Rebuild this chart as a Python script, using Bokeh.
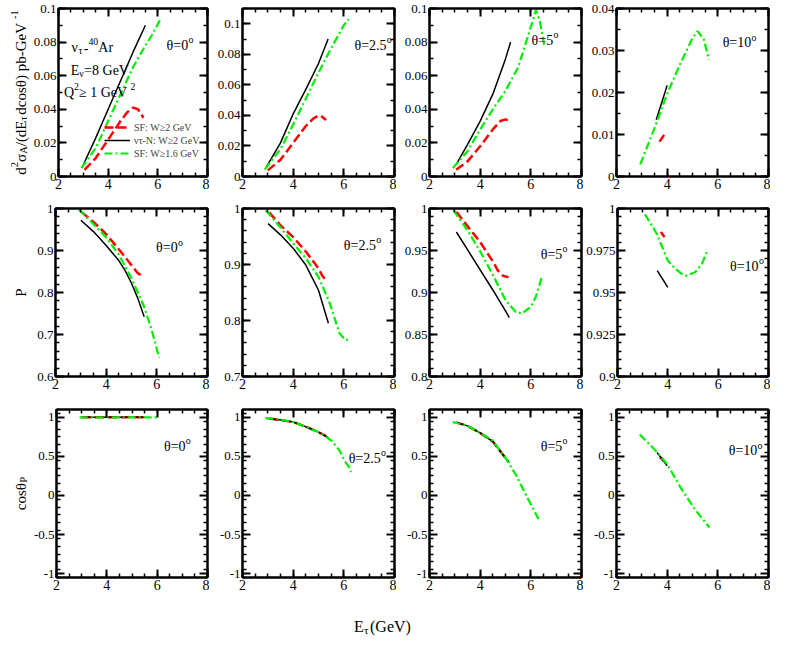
import numpy as np
from math import pi
from bokeh.plotting import figure
from bokeh.layouts import column, row
from bokeh.models import (Range1d, FixedTicker, LinearAxis, CustomJSTickFormatter,
                          Label, Legend, LegendItem)
from bokeh.embed import file_html
from bokeh.resources import INLINE

FONT = "Liberation Serif"

# ---------------- data ----------------
ANGLE_LABELS = ["0", "2.5", "5", "10"]
X_TICKS = [2, 4, 6, 8]

XS_YRANGES = [(0, 0.1), (0, 0.11), (0, 0.1), (0, 0.04)]
XS_YTICKS = [[0, 0.02, 0.04, 0.06, 0.08, 0.1], [0, 0.02, 0.04, 0.06, 0.08, 0.1],
             [0, 0.02, 0.04, 0.06, 0.08, 0.1], [0, 0.01, 0.02, 0.03, 0.04]]
P_YRANGES = [(0.6, 1.0), (0.7, 1.0), (0.8, 1.0), (0.9, 1.0)]
P_YTICKS = [[0.6, 0.7, 0.8, 0.9, 1], [0.7, 0.8, 0.9, 1], [0.8, 0.85, 0.9, 0.95, 1],
            [0.9, 0.925, 0.95, 0.975, 1]]
COS_YRANGE = (-1.05, 1.1)
COS_YTICKS = [-1, -0.5, 0, 0.5, 1]

# theta = 0
XS0_RED_E = [3.05, 3.5, 4.0, 4.5, 4.75, 5.0, 5.2, 5.42]
XS0_RED = [0.004, 0.011, 0.022, 0.033, 0.038, 0.041, 0.040, 0.035]
XS0_BLK_E = [3.0, 3.5, 4.0, 4.5, 5.0, 5.5]
XS0_BLK = [0.007, 0.023, 0.040, 0.057, 0.074, 0.090]
XS0_GRN_E = [2.92, 3.5, 4.0, 4.5, 5.0, 5.5, 5.8, 6.08]
XS0_GRN = [0.005, 0.017, 0.033, 0.049, 0.065, 0.078, 0.085, 0.093]
P0_RED_E = [3.02, 3.5, 4.0, 4.5, 5.0, 5.25, 5.46]
P0_RED = [0.992, 0.968, 0.939, 0.903, 0.865, 0.846, 0.838]
P0_BLK_E = [3.0, 3.5, 4.0, 4.5, 4.75, 5.0, 5.25, 5.5]
P0_BLK = [0.972, 0.945, 0.912, 0.876, 0.852, 0.822, 0.786, 0.742]
P0_GRN_E = [2.92, 3.5, 4.0, 4.5, 5.0, 5.5, 5.8, 6.09]
P0_GRN = [0.998, 0.963, 0.931, 0.890, 0.834, 0.766, 0.710, 0.645]
C0_RED_E = [3.02, 4.0, 5.0, 5.46]
C0_RED = [1.0, 1.0, 1.0, 1.0]
C0_BLK_E = [3.0, 4.0, 5.0, 5.5]
C0_BLK = [1.0, 1.0, 1.0, 1.0]
C0_GRN_E = [2.92, 4.0, 5.0, 6.09]
C0_GRN = [1.0, 1.0, 1.0, 1.0]

# theta = 2.5
XS25_RED_E = [3.0, 3.5, 4.0, 4.5, 4.8, 5.0, 5.15, 5.3]
XS25_RED = [0.004, 0.011, 0.022, 0.033, 0.038, 0.040, 0.039, 0.037]
XS25_BLK_E = [2.95, 3.5, 4.0, 4.5, 5.0, 5.38]
XS25_BLK = [0.0065, 0.022, 0.041, 0.057, 0.074, 0.090]
XS25_GRN_E = [2.88, 3.5, 4.0, 4.5, 5.0, 5.5, 6.0, 6.19]
XS25_GRN = [0.0047, 0.018, 0.034, 0.051, 0.068, 0.084, 0.099, 0.103]
P25_RED_E = [3.05, 3.5, 4.0, 4.5, 5.0, 5.15, 5.3]
P25_RED = [0.993, 0.970, 0.949, 0.923, 0.893, 0.880, 0.871]
P25_BLK_E = [3.01, 3.5, 4.0, 4.5, 5.0, 5.39]
P25_BLK = [0.973, 0.953, 0.929, 0.899, 0.854, 0.795]
P25_GRN_E = [2.92, 3.5, 4.0, 4.5, 5.0, 5.45, 5.83, 6.06, 6.25]
P25_GRN = [0.997, 0.966, 0.938, 0.911, 0.878, 0.830, 0.777, 0.765, 0.767]
C25_RED_E = [3.05, 3.5, 4.0, 4.5, 5.0, 5.3]
C25_RED = [0.985, 0.966, 0.94, 0.88, 0.81, 0.76]
C25_BLK_E = [3.0, 3.5, 4.0, 4.5, 5.0, 5.39]
C25_BLK = [0.985, 0.967, 0.94, 0.88, 0.81, 0.74]
C25_GRN_E = [2.9, 3.5, 4.0, 4.57, 5.08, 5.52, 5.84, 6.03, 6.2, 6.28]
C25_GRN = [0.99, 0.97, 0.94, 0.87, 0.80, 0.70, 0.57, 0.44, 0.37, 0.30]

# theta = 5
XS5_RED_E = [3.05, 3.5, 4.0, 4.5, 4.8, 5.0, 5.15]
XS5_RED = [0.004, 0.009, 0.018, 0.028, 0.033, 0.034, 0.033]
XS5_BLK_E = [3.05, 3.5, 4.0, 4.5, 5.0, 5.2]
XS5_BLK = [0.007, 0.019, 0.033, 0.049, 0.070, 0.080]
XS5_GRN_E = [2.92, 3.5, 4.0, 4.5, 5.0, 5.5, 6.0, 6.2, 6.35, 6.53]
XS5_GRN = [0.005, 0.015, 0.028, 0.040, 0.051, 0.065, 0.089, 0.099, 0.093, 0.078]
P5_RED_E = [3.06, 3.5, 4.0, 4.5, 4.7, 4.9, 5.12]
P5_RED = [0.996, 0.979, 0.960, 0.937, 0.926, 0.920, 0.918]
P5_BLK_E = [3.06, 3.5, 4.0, 4.5, 5.0, 5.15]
P5_BLK = [0.972, 0.951, 0.927, 0.903, 0.878, 0.870]
P5_GRN_E = [2.94, 3.5, 4.0, 4.5, 5.0, 5.4, 5.65, 6.0, 6.2, 6.44]
P5_GRN = [0.998, 0.974, 0.949, 0.921, 0.891, 0.877, 0.875, 0.883, 0.895, 0.919]
C5_RED_E = [3.06, 3.5, 4.0, 4.5, 5.0, 5.12]
C5_RED = [0.935, 0.89, 0.80, 0.69, 0.48, 0.43]
C5_BLK_E = [3.06, 3.5, 4.0, 4.5, 5.0, 5.15]
C5_BLK = [0.935, 0.89, 0.80, 0.69, 0.48, 0.42]
C5_GRN_E = [2.91, 3.5, 4.0, 4.5, 5.0, 5.4, 5.85, 6.3]
C5_GRN = [0.94, 0.89, 0.80, 0.70, 0.48, 0.27, -0.02, -0.30]

# theta = 10
XS10_RED_E = [3.7, 3.88]
XS10_RED = [0.0083, 0.0099]
XS10_BLK_E = [3.57, 4.0]
XS10_BLK = [0.0135, 0.0217]
XS10_GRN_E = [2.94, 3.5, 4.0, 4.5, 5.0, 5.2, 5.45, 5.65]
XS10_GRN = [0.0029, 0.0115, 0.0197, 0.0266, 0.0330, 0.0346, 0.0326, 0.0278]
P10_RED_E = [3.72, 3.87]
P10_RED = [0.986, 0.983]
P10_BLK_E = [3.58, 4.0]
P10_BLK = [0.963, 0.953]
P10_GRN_E = [3.09, 3.56, 4.0, 4.3, 4.57, 4.72, 5.08, 5.35, 5.58]
P10_GRN = [0.9966, 0.985, 0.969, 0.964, 0.961, 0.960, 0.962, 0.967, 0.975]
C10_RED_E = [3.72, 3.87]
C10_RED = [0.49, 0.44]
C10_BLK_E = [3.6, 4.0]
C10_BLK = [0.55, 0.38]
C10_GRN_E = [2.92, 3.5, 4.0, 4.57, 5.08, 5.67]
C10_GRN = [0.78, 0.59, 0.40, 0.08, -0.17, -0.41]

XS_DATA = [
    [(XS0_RED_E, XS0_RED), (XS0_BLK_E, XS0_BLK), (XS0_GRN_E, XS0_GRN)],
    [(XS25_RED_E, XS25_RED), (XS25_BLK_E, XS25_BLK), (XS25_GRN_E, XS25_GRN)],
    [(XS5_RED_E, XS5_RED), (XS5_BLK_E, XS5_BLK), (XS5_GRN_E, XS5_GRN)],
    [(XS10_RED_E, XS10_RED), (XS10_BLK_E, XS10_BLK), (XS10_GRN_E, XS10_GRN)],
]
P_DATA = [
    [(P0_RED_E, P0_RED), (P0_BLK_E, P0_BLK), (P0_GRN_E, P0_GRN)],
    [(P25_RED_E, P25_RED), (P25_BLK_E, P25_BLK), (P25_GRN_E, P25_GRN)],
    [(P5_RED_E, P5_RED), (P5_BLK_E, P5_BLK), (P5_GRN_E, P5_GRN)],
    [(P10_RED_E, P10_RED), (P10_BLK_E, P10_BLK), (P10_GRN_E, P10_GRN)],
]
C_DATA = [
    [(C0_RED_E, C0_RED), (C0_BLK_E, C0_BLK), (C0_GRN_E, C0_GRN)],
    [(C25_RED_E, C25_RED), (C25_BLK_E, C25_BLK), (C25_GRN_E, C25_GRN)],
    [(C5_RED_E, C5_RED), (C5_BLK_E, C5_BLK), (C5_GRN_E, C5_GRN)],
    [(C10_RED_E, C10_RED), (C10_BLK_E, C10_BLK), (C10_GRN_E, C10_GRN)],
]
LEGEND_LABELS = ["SF: W\u22652 GeV", "\u03bd\u03c4-N: W\u22652 GeV", "SF: W\u22651.6 GeV"]

# ---------------- styles / layout ----------------
SERIES_STYLE = [
    dict(line_color="#ff0000", line_width=2.5, line_dash="9 4"),
    dict(line_color="#000000", line_width=1.5, line_dash="solid"),
    dict(line_color="#00ee00", line_width=2.2, line_dash="8 3 2 3"),
]
FW, FH = 152, 168
ML = [25, 33, 33, 33]
MR = 2
MT = [8, 12, 13]
MB = [20, 20, 20]
LEFT_W = 30
XS_MINOR = [0.01, 0.01, 0.01, 0.005]
P_MINOR = [0.02, 0.02, 0.01, 0.005]
COS_MINOR = 0.1

THETA_POS = [
    [(6.35, 0.078), (6.42, 0.086), (6.03, 0.081), (6.19, 0.0318)],
    [(5.97, 0.906), (6.0, 0.934), (6.39, 0.945), (6.47, 0.9655)],
    [(6.27, 0.63), (6.19, 0.47), (6.39, 0.63), (6.43, 0.57)],
]

CW = {' ': .25, '.': .25, '=': .564, '-': .333, ':': .278, '\u2265': .549, '(': .333,
      ')': .333, '/': .278, 'A': .722, 'E': .611, 'F': .556, 'G': .722, 'N': .722,
      'Q': .722, 'S': .556, 'V': .722, 'W': .944, 'P': .556, 'a': .444, 'b': .5,
      'c': .444, 'd': .5, 'e': .444, 'n': .5, 'o': .5, 'p': .5, 'r': .333, 's': .389,
      '\u03c3': .55, '\u03c4': .55, '\u03bd': .5, '\u03b8': .5}


def tw(s, size):
    return sum(CW.get(c, 0.5) for c in s) * size


def rich(p, x, y, parts, size, units="data", angle=0.0, center=False):
    sizes = [size * (0.7 if k != "n" else 1.0) for _, k in parts]
    total = sum(tw(t, s) for (t, _), s in zip(parts, sizes))
    adv = -total / 2 if center else 0.0
    for (t, k), s in zip(parts, sizes):
        shift = 0.42 * size if k == "sup" else (-0.22 * size if k == "sub" else 0.0)
        if angle == 0:
            xo, yo = adv, shift
        else:
            xo, yo = -shift, adv
        p.add_layout(Label(x=x, y=y, x_units=units, y_units=units, text=t, angle=angle,
                           x_offset=xo, y_offset=yo, text_font=FONT,
                           text_font_size=f"{s:.1f}px", text_baseline="alphabetic",
                           text_align="left", text_color="black"))
        adv += tw(t, s)


def minor(lo, hi, step):
    n = int(round((hi - lo) / step))
    return [round(lo + i * step, 6) for i in range(n + 1)]


def style_axis(ax, ticker, labels=True, size="13px"):
    ax.ticker = ticker
    ax.major_tick_in = 8
    ax.major_tick_out = 0
    ax.minor_tick_in = 4
    ax.minor_tick_out = 0
    ax.major_tick_line_width = 2
    ax.minor_tick_line_width = 1.5
    ax.axis_line_width = 2
    ax.axis_line_color = "black"
    ax.major_tick_line_color = "black"
    ax.minor_tick_line_color = "black"
    ax.major_label_text_font = FONT
    ax.major_label_text_color = "black"
    if labels:
        ax.formatter = CustomJSTickFormatter(code="return String(tick)")
        ax.major_label_text_font_size = size
        ax.major_label_standoff = 2
    else:
        ax.formatter = CustomJSTickFormatter(code="return ''")
        ax.major_label_text_font_size = "1px"
        ax.major_label_standoff = 0


def panel(r, c, yr, yticks, ystep, data):
    p = figure(width=ML[c] + FW + MR, height=MT[r] + FH + MB[r],
               x_range=Range1d(2, 8), y_range=Range1d(*yr),
               output_backend="svg", toolbar_location=None, min_border=0,
               min_border_left=ML[c], min_border_right=MR,
               min_border_top=MT[r], min_border_bottom=MB[r])
    p.xgrid.visible = False
    p.ygrid.visible = False
    p.outline_line_color = "black"
    p.outline_line_width = 2
    p.background_fill_color = "white"
    p.border_fill_color = "white"
    xt = FixedTicker(ticks=X_TICKS, minor_ticks=minor(2, 8, 0.5))
    yt = FixedTicker(ticks=yticks, minor_ticks=minor(yr[0], yr[1], ystep))
    style_axis(p.xaxis[0], xt, size="14px")
    style_axis(p.yaxis[0], yt)
    ra = LinearAxis()
    style_axis(ra, yt, labels=False)
    p.add_layout(ra, "right")
    ta = LinearAxis()
    style_axis(ta, xt, labels=False)
    p.add_layout(ta, "above")
    rends = []
    for (e, v), st in zip(data, SERIES_STYLE):
        rends.append(p.line(e, v, **st))
    tx, ty = THETA_POS[r][c]
    rich(p, tx, ty, [("\u03b8=" + ANGLE_LABELS[c], "n"), ("o", "sup")], 14)
    return p, rends


rows = []
for r in range(3):
    figs = []
    for c in range(4):
        if r == 0:
            p, rends = panel(r, c, XS_YRANGES[c], XS_YTICKS[c], XS_MINOR[c], XS_DATA[c])
        elif r == 1:
            p, rends = panel(r, c, P_YRANGES[c], P_YTICKS[c], P_MINOR[c], P_DATA[c])
        else:
            p, rends = panel(r, c, COS_YRANGE, COS_YTICKS, COS_MINOR, C_DATA[c])
        if r == 0 and c == 0:
            leg = Legend(items=[LegendItem(label=lab, renderers=[rr])
                                for lab, rr in zip(LEGEND_LABELS, rends)],
                         location=(46, 17), padding=0, margin=0, spacing=1,
                         glyph_width=26, glyph_height=12, label_height=12,
                         label_standoff=4, label_text_font=FONT,
                         label_text_font_size="10px", border_line_alpha=0,
                         background_fill_alpha=0)
            p.add_layout(leg)
            rich(p, 2.52, 0.0766, [("\u03bd", "n"), ("\u03c4", "sub"), ("-", "n"),
                                   ("40", "sup"), ("Ar", "n")], 14)
            rich(p, 2.49, 0.063, [("E", "n"), ("\u03bd", "sub"), ("=8 GeV", "n")], 14)
            rich(p, 2.22, 0.050, [("Q", "n"), ("2", "sup"), (" \u2265 1 GeV", "n"),
                                  ("2", "sup")], 14)
        figs.append(p)
    rows.append(row(*figs))

grid_h = sum(MT) + 3 * FH + sum(MB)
row_centers = [grid_h - (MT[0] + FH / 2),
               grid_h - (MT[0] + FH + MB[0] + MT[1] + FH / 2),
               grid_h - (MT[0] + FH + MB[0] + MT[1] + FH + MB[1] + MT[2] + FH / 2)]

left = figure(width=LEFT_W, height=grid_h, x_range=Range1d(0, 1), y_range=Range1d(0, 1),
              output_backend="svg", toolbar_location=None, min_border=0,
              x_axis_type=None, y_axis_type=None)
left.outline_line_color = None
left.xgrid.visible = False
left.ygrid.visible = False
rich(left, 20, row_centers[0],
     [("d", "n"), ("2", "sup"), ("\u03c3", "n"), ("A", "sub"), ("/(dE", "n"),
      ("\u03c4", "sub"), (" dcos\u03b8) pb-GeV", "n"), ("-1", "sup")],
     15, units="screen", angle=pi / 2, center=True)
rich(left, 20, row_centers[1], [("P", "n")], 15, units="screen", angle=pi / 2, center=True)
rich(left, 20, row_centers[2], [("cos\u03b8", "n"), ("P", "sub")], 15, units="screen",
     angle=pi / 2, center=True)

total_w = LEFT_W + sum(ML) + 4 * (FW + MR)
strip = figure(width=total_w, height=40, x_range=Range1d(0, 1), y_range=Range1d(0, 1),
               output_backend="svg", toolbar_location=None, min_border=0,
               x_axis_type=None, y_axis_type=None)
strip.outline_line_color = None
strip.xgrid.visible = False
strip.ygrid.visible = False
rich(strip, 382, 11, [("E", "n"), ("\u03c4", "sub"), ("(GeV)", "n")], 16, units="screen",
     center=True)

layout = column(row(left, column(*rows)), strip)
open("out.html", "w").write(file_html(layout, INLINE))
